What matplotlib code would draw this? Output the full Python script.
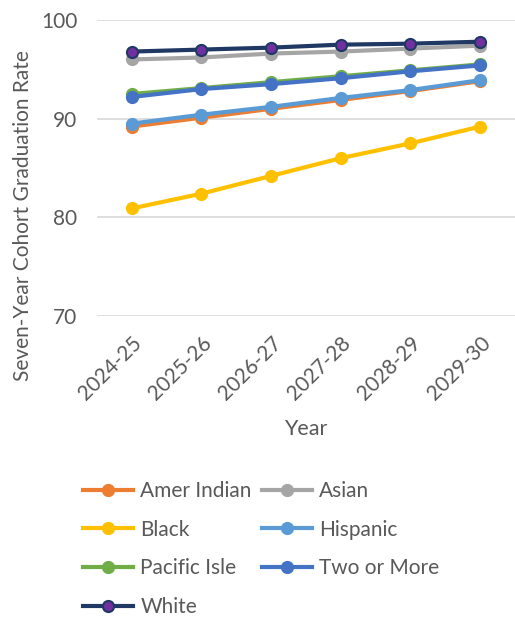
import numpy as np
import matplotlib
matplotlib.use('Agg')
import matplotlib.pyplot as plt

plt.rcParams['font.family'] = ['Lato', 'DejaVu Sans']

years = ['2024-25', '2025-26', '2026-27', '2027-28', '2028-29', '2029-30']

amer_indian = [89.2, 90.1, 91.0, 91.9, 92.8, 93.8]
asian = [96.0, 96.2, 96.6, 96.8, 97.1, 97.4]
black = [80.9, 82.4, 84.2, 86.0, 87.5, 89.2]
hispanic = [89.5, 90.4, 91.2, 92.1, 92.9, 93.9]
pacific_isle = [92.5, 93.1, 93.7, 94.3, 94.9, 95.5]
two_or_more = [92.2, 93.0, 93.5, 94.1, 94.8, 95.4]
white = [96.8, 97.0, 97.2, 97.5, 97.6, 97.8]

series = [
    ('Amer Indian', amer_indian, '#ED7D31', '#ED7D31'),
    ('Asian', asian, '#A5A5A5', '#A5A5A5'),
    ('Black', black, '#FFC000', '#FFC000'),
    ('Hispanic', hispanic, '#5B9BD5', '#5B9BD5'),
    ('Pacific Isle', pacific_isle, '#70AD47', '#70AD47'),
    ('Two or More', two_or_more, '#4472C4', '#4472C4'),
    ('White', white, '#203864', '#7030A0'),
]

txt = '#595959'

fig = plt.figure(figsize=(5.15, 6.17), dpi=100)
ax = fig.add_axes([0.188, 0.4878, 0.812, 0.4798])

x = np.arange(len(years))
handles = {}
for name, vals, col, mcol in series:
    h, = ax.plot(x, vals, color=col, lw=3, marker='o', ms=8,
                 markerfacecolor=mcol, markeredgecolor=col, markeredgewidth=1.5,
                 label=name)
    handles[name] = h

ax.set_xlim(-0.5, len(years) - 0.5)
ax.set_ylim(70, 100)
ax.set_yticks([70, 80, 90, 100])
ax.set_xticks(x)
ax.set_xticklabels(years, rotation=45, ha='right', rotation_mode='anchor')
ax.grid(axis='y', color='#D9D9D9', lw=1.2)
ax.set_axisbelow(True)
for s in ax.spines.values():
    s.set_visible(False)
ax.tick_params(length=0, labelsize=15, colors=txt)
ax.tick_params(axis='y', pad=14)
ax.tick_params(axis='x', pad=12)

ax.set_ylabel('Seven-Year Cohort Graduation Rate', fontsize=15, color=txt)
ax.set_xlabel('Year', fontsize=15.5, color=txt, labelpad=11)
ax.yaxis.set_label_coords(-0.152, 0.34)

order = ['Amer Indian', 'Black', 'Pacific Isle', 'White', 'Asian', 'Hispanic', 'Two or More']
fig.legend([handles[n] for n in order], order, ncol=2, frameon=False,
           loc='upper left', bbox_to_anchor=(83 / 515, 1 - 481 / 617), fontsize=15,
           labelcolor=txt, handlelength=2.4, columnspacing=0.5, labelspacing=0.9,
           handletextpad=0.35, borderpad=0, borderaxespad=0)

fig.savefig('out.png', dpi=100)
